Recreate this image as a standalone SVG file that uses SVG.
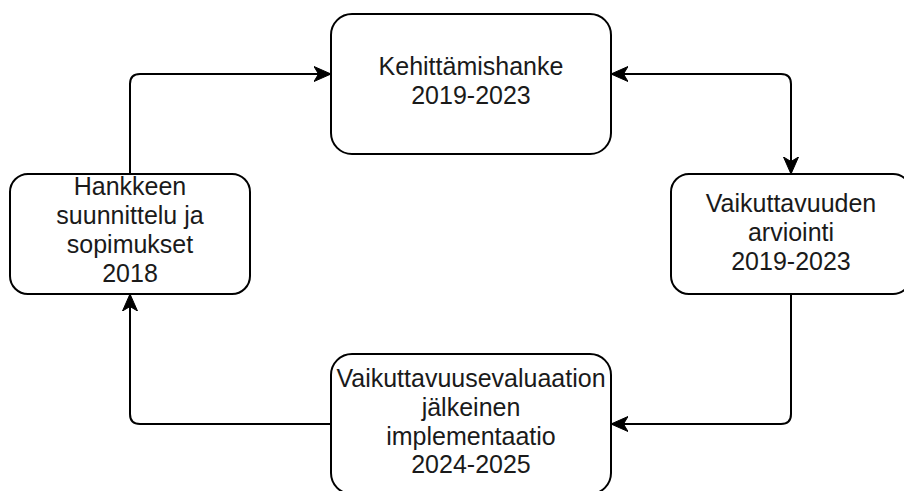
<svg xmlns="http://www.w3.org/2000/svg" width="904" height="491" viewBox="0 0 904 491">
<style>
.box{fill:#fff;stroke:#000;stroke-width:2}
.lbl{font-family:"Liberation Sans",Arial,sans-serif;font-size:25px;fill:#1a1a1a;text-anchor:middle}
.edge{fill:none;stroke:#000;stroke-width:2}
</style>
<defs>
<marker id="arr" viewBox="-17 -9 18 18" refX="0" refY="0" markerWidth="18" markerHeight="18" markerUnits="userSpaceOnUse" orient="auto-start-reverse">
<path d="M0,0 L-17,-7.5 L-12.5,0 L-17,7.5 Z" fill="#000" stroke="#000" stroke-width="1"/>
</marker>
</defs>
<rect width="904" height="491" fill="#fff"/>
<g id="connectors">
<path class="edge" d="M130,174 L130,84 Q130,74 140,74 L331,74" marker-end="url(#arr)"/>
<path class="edge" d="M611,74 L781,74 Q791,74 791,84 L791,174" marker-start="url(#arr)" marker-end="url(#arr)"/>
<path class="edge" d="M791,294 L791,414 Q791,424 781,424 L611,424" marker-end="url(#arr)"/>
<path class="edge" d="M331,424 L140,424 Q130,424 130,414 L130,294" marker-end="url(#arr)"/>
</g>
<g id="kehittamishanke">
<rect class="box" x="331" y="14" width="280" height="140" rx="21" ry="21"/>
<text class="lbl" x="471" y="75">Kehittämishanke</text>
<text class="lbl" x="471" y="104">2019-2023</text>
</g>
<g id="vaikuttavuuden-arviointi">
<rect class="box" x="671" y="174" width="240" height="120" rx="18" ry="18"/>
<text class="lbl" x="791" y="212">Vaikuttavuuden</text>
<text class="lbl" x="791" y="241">arviointi</text>
<text class="lbl" x="791" y="270">2019-2023</text>
</g>
<g id="implementaatio">
<rect class="box" x="331" y="354" width="280" height="140" rx="21" ry="21"/>
<text class="lbl" x="471" y="387">Vaikuttavuusevaluaation</text>
<text class="lbl" x="471" y="416">jälkeinen</text>
<text class="lbl" x="471" y="445">implementaatio</text>
<text class="lbl" x="471" y="473">2024-2025</text>
</g>
<g id="hankkeen-suunnittelu">
<rect class="box" x="10" y="174" width="240" height="120" rx="18" ry="18"/>
<text class="lbl" x="130" y="195">Hankkeen</text>
<text class="lbl" x="130" y="224">suunnittelu ja</text>
<text class="lbl" x="130" y="253">sopimukset</text>
<text class="lbl" x="130" y="282">2018</text>
</g>
</svg>
